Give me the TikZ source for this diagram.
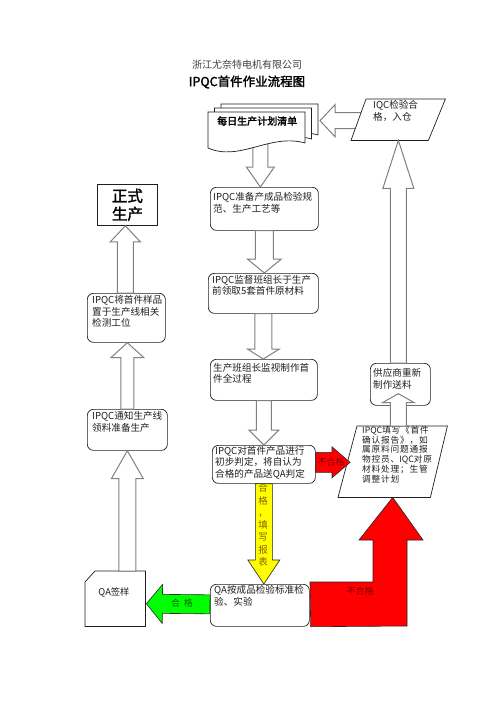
\documentclass[tikz,border=0pt]{standalone}
\usepackage{fontspec}
\setmainfont{Noto Sans CJK SC}[BoldFont={Noto Sans CJK SC},BoldFeatures={FakeBold=2}]
\newfontfamily\infofont{Noto Sans CJK SC}[LetterSpace=9]
\usetikzlibrary{calc}
\pgfdeclarelayer{bg}
\pgfdeclarelayer{paper}
\pgfsetlayers{paper,bg,main}
\definecolor{ink}{gray}{0.12}
\definecolor{arrgray}{gray}{0.5}
\definecolor{darkred2}{RGB}{128,0,0}
\definecolor{dkgreen2}{RGB}{0,105,0}
\definecolor{brown2}{RGB}{140,95,0}
\definecolor{myred}{RGB}{255,0,0}
\definecolor{mygreen}{RGB}{0,255,0}
\definecolor{myyellow}{RGB}{255,255,0}
% #1 style, #2 start, #3 tip, #4 shaft half width, #5 head half width, #6 head length
\newcommand\blockarr[6]{%
  \coordinate (ba-s) at (#2);
  \coordinate (ba-e) at (#3);
  \coordinate (ba-h) at ($(ba-e)!#6!(ba-s)$);
  \draw[#1] ($(ba-s)!#4!90:(ba-e)$) -- ($(ba-h)!#4!90:(ba-e)$) -- ($(ba-h)!#5!90:(ba-e)$)
    -- (ba-e) -- ($(ba-h)!#5!-90:(ba-e)$) -- ($(ba-h)!#4!-90:(ba-e)$) -- ($(ba-s)!#4!-90:(ba-e)$) -- cycle;
}
\begin{document}
\begin{tikzpicture}[x=1pt,y=-1pt,
  rbox/.style={draw=ink, line width=0.7pt, rounded corners=6pt, fill=white, inner sep=0pt, anchor=north west},
  ghost/.style={inner sep=0pt, anchor=north west},
  tx/.style={font=\fontsize{9.6}{11.5}\selectfont, text=ink, align=left, inner sep=0pt, anchor=north west},
  harr/.style={draw=arrgray, line width=1pt, fill=white, line join=miter},
  carr/.style={draw=black!85, line width=0.6pt, line join=miter},
  shapeline/.style={draw=ink, line width=0.7pt, fill=white}]
\useasboundingbox (0,0) rectangle (496,702);
\begin{pgfonlayer}{paper}
\fill[white] (0,0) rectangle (496,702);
\end{pgfonlayer}

% titles
\node[font=\fontsize{10}{12}\selectfont, text=black!75] (company) at (247,65) {浙江尤奈特电机有限公司};
\node[font=\bfseries\fontsize{12.5}{14}\selectfont, text=black] (title) at (247,82) {IPQC首件作业流程图};

% ---------- node geometry ----------
\node[ghost, minimum width=94pt, minimum height=41pt] (iqc) at (351,99) {};
\node[ghost, minimum width=109pt, minimum height=71pt] (info) at (338,426) {};
\node[ghost, minimum width=60pt, minimum height=55pt] (qasign) at (85,571) {};

% documents
\begin{scope}[shift={(13,-8)}]
  \draw[shapeline] (208,112) -- (305,112) -- (305,143) .. controls (270,133) and (240,162) .. (208,148) -- cycle;
\end{scope}
\begin{scope}[shift={(6.5,-4)}]
  \draw[shapeline] (208,112) -- (305,112) -- (305,143) .. controls (270,133) and (240,162) .. (208,148) -- cycle;
\end{scope}
\draw[shapeline] (208,112) -- (305,112) -- (305,143) .. controls (270,133) and (240,162) .. (208,148) -- cycle;
\node[font=\bfseries\fontsize{10}{12}\selectfont, text=black, anchor=west, inner sep=0pt] (plan) at (217,121) {每日生产计划清单};

% boxes centre column
\node[rbox, minimum width=108pt, minimum height=43pt] (prep) at (210,187) {};
\node[tx] (prep-t) at (213,192.4) {IPQC准备产成品检验规\\范、生产工艺等};
\node[rbox, minimum width=110pt, minimum height=40pt] (monitor) at (208,273) {};
\node[tx] (monitor-t) at (212,275) {IPQC监督班组长于生产\\前领取5套首件原材料};
\node[rbox, minimum width=107pt, minimum height=41pt] (make) at (210,359) {};
\node[tx] (make-t) at (213,362.7) {生产班组长监视制作首\\件全过程};
\node[rbox, minimum width=103pt, minimum height=38pt] (judge) at (212,445) {};
\node[tx] (judge-t) at (215,445.8) {IPQC对首件产品进行\\初步判定，将自认为\\合格的产品送QA判定};
\node[rbox, minimum width=99pt, minimum height=42pt] (qa) at (210,584) {};
\node[tx] (qa-t) at (214,585.4) {QA按成品检验标准检\\验、实验};

% left column
\node[draw=ink, line width=0.8pt, fill=white, minimum width=60pt, minimum height=41pt, anchor=north west, inner sep=0pt,
      font=\bfseries\fontsize{15.5}{18}\selectfont, align=center] (formal) at (97,184) {正式\\生产};
\node[rbox, minimum width=78pt, minimum height=49pt] (place) at (87,293) {};
\node[tx] (place-t) at (92,295.4) {IPQC将首件样品\\置于生产线相关\\检测工位};
\node[rbox, minimum width=80pt, minimum height=41pt] (notify) at (87,409) {};
\node[tx] (notify-t) at (92,411.4) {IPQC通知生产线\\领料准备生产};
\draw[shapeline] (qasign.south west) -- ([yshift=-11pt]qasign.north west) -- ([xshift=10pt]qasign.north west)
   -- (qasign.north east) -- (qasign.south east) -- cycle;
\node[font=\fontsize{9.3}{11}\selectfont, text=ink, inner sep=0pt] (qasign-t) at (114,592) {QA签样};

% right column
\node[rbox, minimum width=60pt, minimum height=42pt] (sup) at (370,363) {};
\node[tx] (sup-t) at (373,368.4) {供应商重新\\制作送料};

% ---------- arrows under shapes ----------
\begin{pgfonlayer}{bg}
  \blockarr{harr}{$(iqc.west)+(12,1)$}{$(iqc.west)+(-31,1)$}{8pt}{16pt}{15pt}
  \blockarr{harr}{$(prep.north)+(-4,-45)$}{$(prep.north)+(-4,0)$}{7.5pt}{14pt}{20pt}
\end{pgfonlayer}

% parallelograms
\draw[shapeline] ([xshift=15pt]iqc.north west) -- (iqc.north east) -- ([xshift=-17pt]iqc.south east) -- (iqc.south west) -- cycle;
\node[tx, font=\fontsize{9.6}{12}\selectfont] (iqc-t) at (373,100.4) {IQC检验合\\格，入仓};
\draw[shapeline] ([xshift=19pt]info.north west) -- (info.north east) -- ([xshift=-17pt]info.south east) -- (info.south west) -- cycle;
\node[tx, font=\fontsize{8.7}{9.7}\selectfont] (info-t) at (362,426) {IPQC{\infofont 填写《首件}\\{\infofont 确认报告》，如}\\{\infofont 属原料问题通报}\\{\infofont 物控员、}IQC{\infofont 对原}\\{\infofont 材料处理；生管}\\{\infofont 调整计划}};

% ---------- hollow arrows ----------
\blockarr{harr}{prep.south}{prep.south |- monitor.north}{9pt}{17pt}{14pt}
\blockarr{harr}{monitor.south}{monitor.south |- make.north}{8.5pt}{16pt}{10pt}
\blockarr{harr}{make.south}{make.south |- judge.north}{7.5pt}{15pt}{15pt}
\blockarr{harr}{$(sup.north)+(-2,0)$}{$(sup.north |- iqc.south)+(-2,0)$}{8pt}{15.5pt}{48pt}
\blockarr{harr}{$(sup.south |- info.north)+(-2,0)$}{$(sup.south)+(-2,-12)$}{8pt}{16pt}{9pt}
\blockarr{harr}{notify.south |- qasign.north}{notify.south}{8.5pt}{16pt}{28pt}
\blockarr{harr}{notify.north}{notify.north |- place.south}{6.5pt}{16.5pt}{15pt}
\blockarr{harr}{$(place.north)+(-1,0)$}{$(place.north |- formal.south)+(-1,0)$}{8pt}{15pt}{16pt}

% ---------- coloured arrows ----------
\blockarr{carr, fill=myred}{$(judge.east)+(0,-2)$}{$(judge.east -| info.west)+(12,-2)$}{10pt}{15.5pt}{18pt}
\node[font=\fontsize{9}{10}\selectfont, text=darkred2, inner sep=0pt] (nok1) at (331,462) {不合格};
\blockarr{carr, fill=myyellow}{judge.south}{judge.south |- qa.north}{8.5pt}{16pt}{24pt}
\node[font=\fontsize{9.5}{12.3}\selectfont, text=brown2, align=center, inner sep=0pt] (ok1) at (263,525) {合\\格\\，\\填\\写\\报\\表};
\blockarr{carr, fill=mygreen}{$(qa.west)+(0,-1)$}{$(qasign.east)+(1,5)$}{9.5pt}{19.5pt}{16pt}
\node[font=\fontsize{9}{10}\selectfont, text=dkgreen2, inner sep=0pt] (ok2) at (182,603) {合\hspace{4pt}格};
\draw[carr, fill=myred] ([xshift=1pt]qa.south east) -- (407,626) -- (407,540) -- (423,540) -- (info.south)
   -- (359,540) -- (373,540) -- (373,582) -- (310,582) -- cycle;
\node[font=\fontsize{9}{10}\selectfont, text=darkred2, inner sep=0pt] (nok2) at (360,591) {不合格};
\end{tikzpicture}
\end{document}
